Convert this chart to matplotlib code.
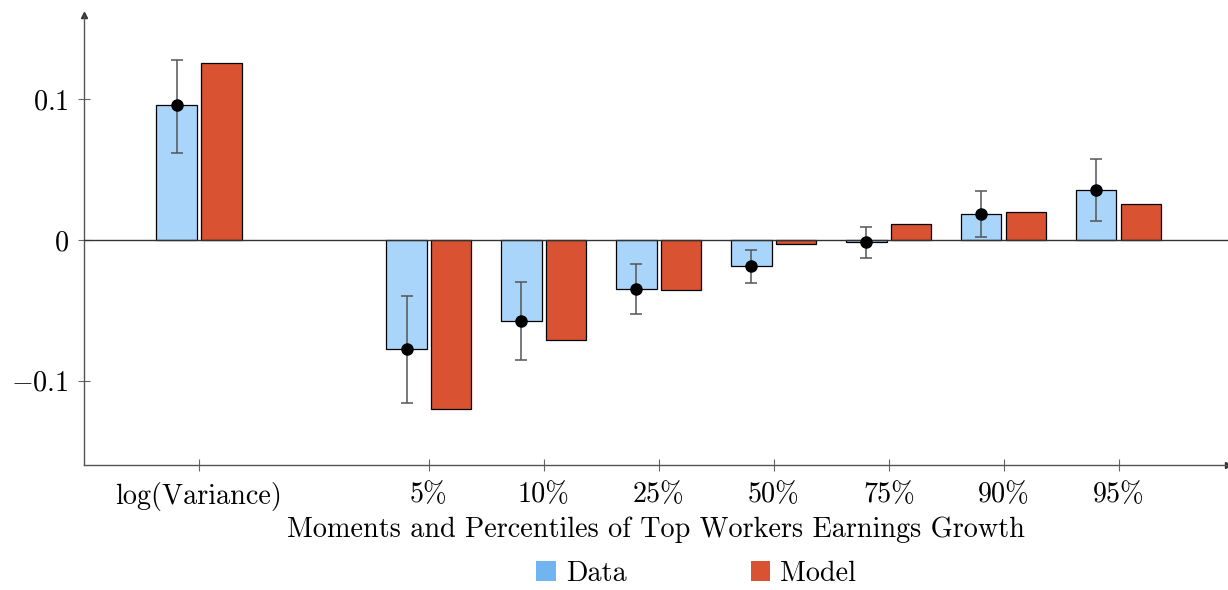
import matplotlib
matplotlib.use("Agg")
import matplotlib.pyplot as plt
from matplotlib.patches import Patch
import numpy as np

plt.rcParams['font.family'] = ['cmr10', 'DejaVu Serif']
plt.rcParams['mathtext.fontset'] = 'cm'
plt.rcParams['axes.unicode_minus'] = False

categories = ['log(Variance)', '5%', '10%', '25%', '50%', '75%', '90%', '95%']
positions = [0, 2, 3, 4, 5, 6, 7, 8]
data_vals = [0.0957, -0.0773, -0.0574, -0.0348, -0.0184, -0.0014, 0.0184, 0.0355]
model_vals = [0.126, -0.120, -0.0709, -0.0355, -0.0028, 0.0113, 0.0199, 0.0255]
err_low = [0.0617, -0.1156, -0.0850, -0.0525, -0.0305, -0.0128, 0.0021, 0.0135]
err_high = [0.1280, -0.0397, -0.0298, -0.0170, -0.0070, 0.0092, 0.0348, 0.0574]
yticks = [-0.1, 0, 0.1]
yticklabels = [r'$-0.1$', r'$0$', r'$0.1$']

FS = 20.3

fig = plt.figure(figsize=(12.28, 5.90), dpi=100)
ax = fig.add_axes([0.0684, 0.2119, 0.9316, 0.7627])

pos = np.array(positions, dtype=float)
w = 0.35
off = 0.195
data_face = '#aad5fb'
data_leg = '#70b5ef'
model_col = '#d95231'

ax.bar(pos - off, data_vals, width=w, color=data_face, edgecolor='black', linewidth=0.9, zorder=2)
ax.bar(pos + off, model_vals, width=w, color=model_col, edgecolor='black', linewidth=0.9, zorder=2)

dv = np.array(data_vals)
yerr = np.vstack([dv - np.array(err_low), np.array(err_high) - dv])
ax.errorbar(pos - off, dv, yerr=yerr, fmt='o', color='black', ecolor='#555555',
            elinewidth=1.1, capsize=4, capthick=1.1, markersize=8, zorder=4)

ax.axhline(0, color='#333333', linewidth=1.0, zorder=3)

ax.set_xlim(-1.0, 8.95)
ax.set_ylim(-0.16, 0.16)
ax.set_xticks(pos)
ax.set_xticklabels(categories, fontsize=FS)
ax.set_yticks(yticks)
ax.set_yticklabels(yticklabels, fontsize=FS)
ax.tick_params(axis='both', direction='inout', length=8, width=0.8, color='#666666')
ax.tick_params(axis='x', pad=8)
ax.tick_params(axis='y', pad=7)

for s in ['top', 'right']:
    ax.spines[s].set_visible(False)
for s in ['left', 'bottom']:
    ax.spines[s].set_color('#555555')
    ax.spines[s].set_linewidth(1.0)
ax.plot(1, 0, '>', color='#333333', markersize=4, transform=ax.transAxes, clip_on=False)
ax.plot(0, 1, '^', color='#333333', markersize=4, transform=ax.transAxes, clip_on=False)

ax.set_xlabel('Moments and Percentiles of Top Workers Earnings Growth', fontsize=FS, labelpad=4)

handles = [Patch(facecolor=data_leg, edgecolor='none', label='Data'),
           Patch(facecolor=model_col, edgecolor='none', label='Model')]
fig.legend(handles=handles, loc='center', bbox_to_anchor=(0.567, 0.028), ncol=2,
           frameon=False, fontsize=FS, handlelength=0.7, handleheight=0.7,
           handletextpad=0.35, columnspacing=4.4, borderpad=0.1)

fig.savefig('out.png', dpi=100)
